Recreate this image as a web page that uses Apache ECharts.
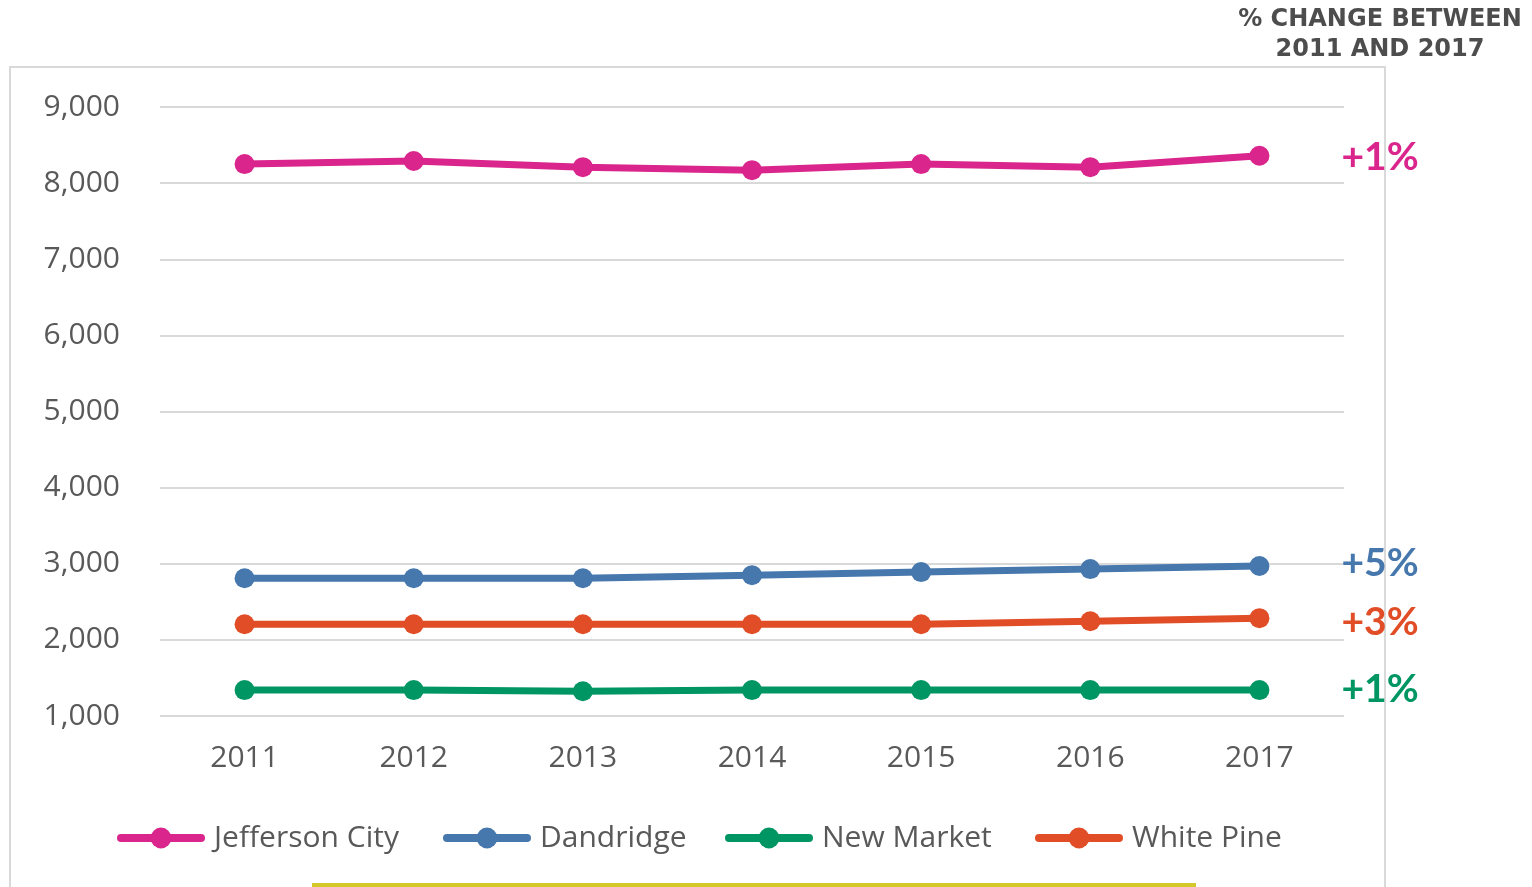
<!DOCTYPE html>
<html>
<head>
<meta charset="utf-8">
<script src="https://cdn.jsdelivr.net/npm/echarts@6/dist/echarts.min.js"></script>
<style>
html,body{margin:0;padding:0;background:#fff;}
#chart{width:1532px;height:887px;}
</style>
</head>
<body>
<div id="chart"></div>
<script>
// data
var years = ['2011', '2012', '2013', '2014', '2015', '2016', '2017'];
var jeffersonCity = [8250, 8290, 8210, 8170, 8250, 8210, 8360];
var dandridge = [2810, 2810, 2810, 2850, 2890, 2930, 2970];
var newMarket = [1340, 1340, 1325, 1340, 1340, 1340, 1340];
var whitePine = [2205, 2205, 2205, 2205, 2205, 2245, 2285];
var changeLabels = ['+1%', '+5%', '+1%', '+3%'];
var seriesNames = ['Jefferson City', 'Dandridge', 'New Market', 'White Pine'];
var colors = ['#d9258c', '#4677ad', '#009664', '#e04d26'];

var chart = echarts.init(document.getElementById('chart'));

// label nudges so the % sits where the original put it
var labelOffsets = [[0, 2], [0, -3], [0, -1], [0, 4]];
// one legend per item so each sits where the original had it
var legendLefts = [117, 443, 725, 1035];

function makeSeries(name, data, idx){
	return {
		name: name,
		type: 'line',
		data: data,
		color: colors[idx],
		symbol: 'circle',
		symbolSize: 20,
		lineStyle: {width: 7},
		animation: false,
		endLabel: {
			show: true,
			distance: 82,
			offset: labelOffsets[idx],
			formatter: function(){ return changeLabels[idx]; },
			color: colors[idx],
			fontFamily: 'Lato',
			fontSize: 39,
			fontWeight: 'bold'
		}
	};
}

var option = {
	backgroundColor: '#fff',
	grid: {left: 160, right: 188, top: 107, bottom: 171},
	legend: seriesNames.map(function(n, i){
		return {
			left: legendLefts[i],
			top: 823,
			padding: 0,
			itemWidth: 80,
			itemHeight: 26,
			itemGap: 0,
			lineStyle: {width: 8, cap: 'round'},
			textStyle: {fontFamily: 'Open Sans', fontSize: 30, color: '#595959', padding: [0, 0, 0, 8]},
			data: [n]
		};
	}),
	xAxis: {
		type: 'category',
		data: years,
		boundaryGap: true,
		axisLine: {show: false},
		axisTick: {show: false},
		axisLabel: {fontFamily: 'Open Sans', fontSize: 30, color: '#595959', margin: 27}
	},
	yAxis: {
		type: 'value',
		min: 1000,
		max: 9000,
		interval: 1000,
		axisLine: {show: false},
		axisTick: {show: false},
		axisLabel: {
			fontFamily: 'Open Sans', fontSize: 30, color: '#595959', margin: 40,
			formatter: function(v){ return v.toLocaleString('en-US'); }
		},
		splitLine: {lineStyle: {color: '#d9d9d9', width: 2}}
	},
	graphic: [
		{type: 'rect', z: -1, shape: {x: 10, y: 67, width: 1375, height: 830},
			style: {fill: 'none', stroke: '#d9d9d9', lineWidth: 2}},
		{type: 'line', shape: {x1: 312, y1: 885, x2: 1196, y2: 885},
			style: {stroke: '#d4c92a', lineWidth: 4}},
		{type: 'text', x: 1380, y: 5,
			style: {text: '% CHANGE BETWEEN\n2011 AND 2017', fill: '#4d4d4d',
				font: 'bold 24px "DejaVu Sans"', lineHeight: 30, align: 'center'}}
	],
	series: [
		makeSeries(seriesNames[0], jeffersonCity, 0),
		makeSeries(seriesNames[1], dandridge, 1),
		makeSeries(seriesNames[2], newMarket, 2),
		makeSeries(seriesNames[3], whitePine, 3)
	]
};
chart.setOption(option);
</script>
</body>
</html>
